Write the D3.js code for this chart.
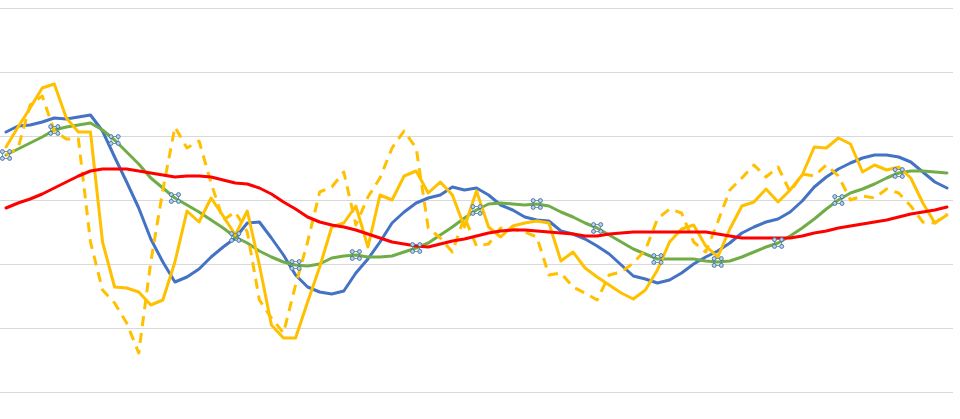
<!DOCTYPE html>
<html>
<head>
<meta charset="utf-8">
<script src="https://cdn.jsdelivr.net/npm/d3@7"></script>
<style>
  html, body { margin: 0; padding: 0; background: #fff; }
  svg { display: block; }
</style>
</head>
<body>
<svg id="chart" width="960" height="419"></svg>
<script>
// ---- data ----
const categories = d3.range(1, 80);
const gridTicks = [0, 64, 128, 192, 256, 320, 384];

const blueSeries = [260,266,267,270,274,273,275,277,261,235,210,184,153,130,110,115,123,135,145,154,
  169,170,154,137,117,105,100,98,101,119,133,150,169,180,189,194,197,205,202,204,
  197,187,182,175,172,171,161,158,153,146,138,127,116,113,109,112,119,128,135,141,
  149,159,165,170,173,180,191,205,215,223,229,234,237,237,235,230,220,210,204];

const greenSeries = [237,243,249,255,262,265,267,269,262,252,240,228,214,204,194,187,180,172,164,155,
  149,141,135,130,127,126,128,134,136,137,135,135,136,140,144,149,157,165,174,182,
  188,189,188,187,188,186,180,175,169,164,157,150,143,138,133,133,133,133,131,130,
  131,135,140,145,149,156,164,173,183,192,199,203,208,214,219,221,221,220,219];

const redSeries = [184,189,193,198,204,210,216,221,223,223,223,221,219,217,215,216,216,215,212,209,
  208,204,198,190,183,175,170,167,165,162,158,154,150,148,146,145,148,151,153,156,
  159,161,162,162,161,160,159,158,156,156,158,159,160,160,160,160,160,160,160,158,
  156,154,154,154,154,154,156,159,161,164,166,168,170,172,175,178,180,182,185];

const yellowSolidSeries = [245,265,284,304,308,274,260,260,150,105,104,100,87,92,130,181,170,194,176,157,
  181,127,67,54,54,90,125,165,169,186,145,197,192,216,221,199,210,197,165,201,
  165,155,166,169,171,169,131,140,124,115,107,99,93,102,122,150,163,167,146,135,
  163,186,190,203,190,202,217,245,244,254,248,220,227,222,225,214,189,169,177];

const yellowDashedSeries = [237,244,287,296,261,253,253,150,102,89,69,39,130,202,265,244,251,209,172,180,
  160,92,74,59,107,150,200,205,220,167,195,214,244,261,244,164,154,140,175,146,
  148,164,163,160,155,117,119,105,99,92,117,120,129,142,173,183,179,150,140,170,
  202,214,227,215,225,200,218,216,227,216,192,196,194,203,199,186,170,169,178];

const markerIndices = [0,4,9,14,19,24,29,34,39,44,49,54,59,64,69,74];

// ---- layout ----
const svg = d3.select("#chart");
const plotLeft = 0, plotRight = 953, plotTop = 8, plotBottom = 392;

const x = d3.scalePoint().domain(categories).range([plotLeft, plotRight]).padding(0.5);
const y = d3.scaleLinear().domain([0, 384]).range([plotBottom, plotTop]);

// gridlines
const yAxis = d3.axisLeft(y).tickValues(gridTicks).tickSize(-(plotRight - plotLeft)).tickFormat("");
const gAxis = svg.append("g").attr("transform", `translate(${plotLeft},0)`).call(yAxis);
gAxis.select(".domain").remove();
gAxis.selectAll(".tick line").attr("stroke", "#d9d9d9").attr("stroke-width", 1)
  .attr("shape-rendering", "crispEdges");

const line = d3.line()
  .x((d, i) => x(categories[i]))
  .y(d => y(d));

function drawLine(data, color, dash) {
  svg.append("path")
    .datum(data)
    .attr("fill", "none")
    .attr("stroke", color)
    .attr("stroke-width", 3)
    .attr("stroke-linejoin", "round")
    .attr("stroke-linecap", dash ? "butt" : "round")
    .attr("stroke-dasharray", dash ? "10,7" : null)
    .attr("d", line);
}

drawLine(blueSeries, "#4472C4", false);
drawLine(greenSeries, "#70AD47", false);
drawLine(yellowSolidSeries, "#FFC000", false);
drawLine(yellowDashedSeries, "#FFC000", true);
drawLine(redSeries, "#FF0000", false);

// markers on green line
const mk = svg.append("g");
markerIndices.forEach(i => {
  const cx = x(categories[i]), cy = y(greenSeries[i]);
  const g = mk.append("g").attr("transform", `translate(${cx},${cy})`);
  g.append("rect").attr("x", -3.6).attr("y", -3.4).attr("width", 7.2).attr("height", 6.8)
    .attr("fill", "none").attr("stroke", "#5b7fa6").attr("stroke-width", 0.8);
  [[-3.6,-3.4],[3.6,-3.4],[-3.6,3.4],[3.6,3.4]].forEach(([dx,dy]) => {
    g.append("circle").attr("cx", dx).attr("cy", dy).attr("r", 2)
      .attr("fill", "#b9d0ea").attr("stroke", "#41719c").attr("stroke-width", 0.9);
  });
});
</script>
</body>
</html>
